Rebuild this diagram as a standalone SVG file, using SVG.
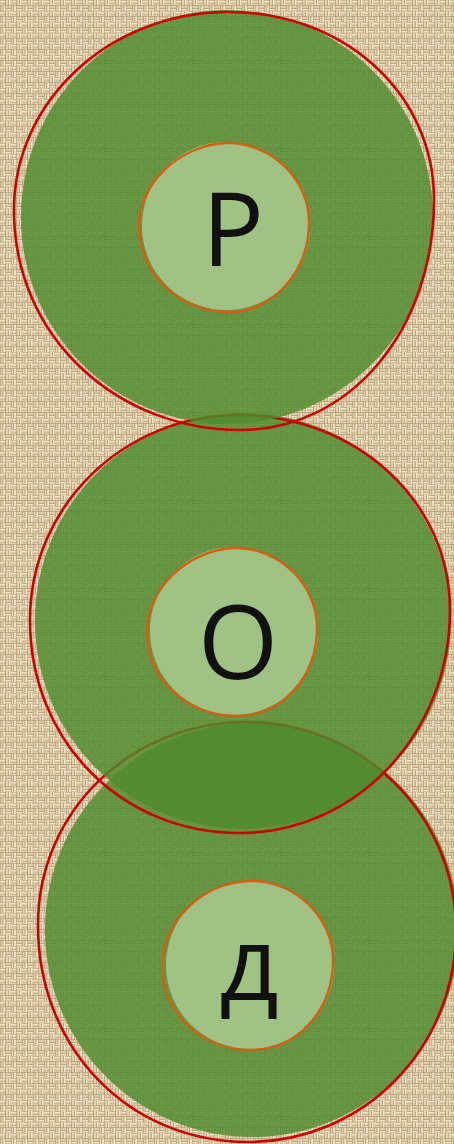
<svg xmlns="http://www.w3.org/2000/svg" width="454" height="1144" viewBox="0 0 454 1144">
<defs>
<pattern id="burlap" width="11" height="11" patternUnits="userSpaceOnUse">
<rect width="11" height="11" fill="#9a8665"/>
<rect x="0" y="0.5" width="5.5" height="2.2" fill="#f3e6c6"/>
<rect x="0" y="3.2" width="5.5" height="2" fill="#dcc9a0"/>
<rect x="6" y="0" width="2.1" height="5.5" fill="#e5d2aa"/>
<rect x="8.7" y="0" width="2" height="5.5" fill="#f6e9ca"/>
<rect x="0.5" y="5.5" width="2.1" height="5.5" fill="#e3d0a8"/>
<rect x="3.2" y="5.5" width="2" height="5.5" fill="#f3e6c6"/>
<rect x="5.5" y="6" width="5.5" height="2.1" fill="#e0cda5"/>
<rect x="5.5" y="8.7" width="5.5" height="2" fill="#f1e3c1"/>
</pattern>
<style>
.disc{fill:#4f8a2e;fill-opacity:0.83}
.ring{fill:none;stroke:#cc0000;stroke-width:2.6}
.core{fill:#a6c88c;fill-opacity:0.9}
.halo{fill:none;stroke:#d35f14;stroke-width:2.4}
.letter{font-family:"Open Sans","Noto Sans","DejaVu Sans",sans-serif;font-size:103px;font-weight:500;fill:#111111;text-anchor:middle}
</style>
</defs>
<rect width="454" height="1144" fill="url(#burlap)"/>
<g id="node-d">
<ellipse class="disc" cx="252" cy="930" rx="207" ry="207"/>
<path class="ring" d="M247,722 C362,722 456,815 456,930 C456,1050 362,1142 248,1142 C130,1142 38,1050 38,925 C38,810 132,722 247,722 Z"/>
<circle class="core" cx="250" cy="965" r="84"/>
<path class="halo" d="M249,881 C296,880 333,918 333,960 C333,1010 298,1050 250,1050 C202,1050 162,1013 162,966 C162,921 202,883 249,881 Z"/>
<text class="letter" x="249" y="1000">д</text>
</g>
<g id="node-o">
<ellipse class="disc" cx="243" cy="621" rx="208" ry="208"/>
<path class="ring" d="M238,415 C355,415 450,500 450,610 C450,735 355,833 240,833 C120,833 30,740 30,620 C30,505 125,415 238,415 Z"/>
<circle class="core" cx="234" cy="631" r="84"/>
<path class="halo" d="M234,548 C280,547 317,585 317,628 C317,676 283,716 236,716 C188,716 147,680 147,632 C147,588 188,550 234,548 Z"/>
<text class="letter" x="238" y="679">О</text>
</g>
<g id="node-r">
<ellipse class="disc" cx="227" cy="217" rx="206" ry="207"/>
<path class="ring" d="M224,12 C340,10 434,90 434,200 C434,330 350,430 240,430 C120,430 14,340 14,210 C14,100 110,14 224,12 Z"/>
<circle class="core" cx="226" cy="226" r="84"/>
<path class="halo" d="M226,143 C272,142 309,180 309,222 C309,270 275,312 228,312 C180,312 139,275 139,225 C139,183 180,145 226,143 Z"/>
<text class="letter" x="233" y="266">Р</text>
</g>
</svg>
